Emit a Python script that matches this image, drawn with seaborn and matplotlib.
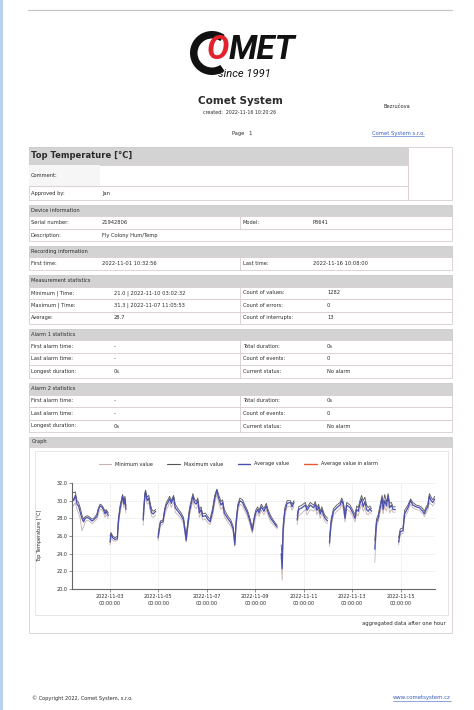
import matplotlib
matplotlib.use("Agg")
import matplotlib.pyplot as plt
import matplotlib.dates as mdates
from matplotlib.patches import Rectangle, Wedge
from matplotlib.lines import Line2D
import pandas as pd
import seaborn as sns

# ---- chart data (hourly aggregates), one list per recording segment ----
times = [
    ["11-01 10:30", "11-01 12:10", "11-01 13:50", "11-01 15:30", "11-01 17:00", "11-01 18:40", "11-01 20:20",
     "11-01 22:00", "11-01 23:40", "11-02 01:50", "11-02 04:30", "11-02 06:10", "11-02 07:50", "11-02 09:30",
     "11-02 11:10", "11-02 12:50", "11-02 14:25", "11-02 16:00", "11-02 17:40", "11-02 19:20", "11-02 20:20",
     "11-02 22:35"],
    ["11-03 00:10", "11-03 01:10", "11-03 02:50", "11-03 05:10", "11-03 07:30", "11-03 08:25", "11-03 10:05",
     "11-03 12:40", "11-03 14:00", "11-03 15:00", "11-03 16:00"],
    ["11-04 09:00", "11-04 10:40", "11-04 11:20", "11-04 13:00", "11-04 14:35", "11-04 16:15", "11-04 17:35",
     "11-04 18:55", "11-04 21:30"],
    ["11-04 23:45", "11-05 02:05", "11-05 04:40", "11-05 06:20", "11-05 08:00", "11-05 09:35", "11-05 11:15",
     "11-05 12:55", "11-05 15:10", "11-05 16:50", "11-05 19:30", "11-05 22:45", "11-06 01:00", "11-06 03:40",
     "11-06 05:00", "11-06 07:00", "11-06 10:15", "11-06 11:50", "11-06 13:30", "11-06 15:10", "11-06 16:45",
     "11-06 18:25", "11-06 20:00", "11-06 22:40", "11-07 01:00", "11-07 03:20", "11-07 05:55", "11-07 07:55",
     "11-07 10:05", "11-07 11:45", "11-07 14:05", "11-07 15:45", "11-07 17:25", "11-07 20:40", "11-07 23:55",
     "11-08 02:10", "11-08 03:50", "11-08 05:10", "11-08 06:50", "11-08 08:50", "11-08 11:25", "11-08 13:00",
     "11-08 16:20", "11-08 18:35", "11-08 21:10", "11-08 22:55", "11-09 00:30", "11-09 02:30", "11-09 03:50",
     "11-09 06:05", "11-09 08:40", "11-09 11:00", "11-09 13:00", "11-09 15:20", "11-09 18:30", "11-09 21:50"],
    ["11-10 01:45", "11-10 02:45", "11-10 03:45", "11-10 05:25", "11-10 07:40", "11-10 10:55", "11-10 12:35",
     "11-10 14:30"],
    ["11-10 17:30", "11-10 19:05", "11-10 22:25", "11-11 01:40", "11-11 03:20", "11-11 06:35", "11-11 09:55",
     "11-11 11:30", "11-11 13:10", "11-11 14:50", "11-11 16:25", "11-11 18:05", "11-11 19:40", "11-11 21:20",
     "11-11 23:40"],
    ["11-12 01:35", "11-12 03:15", "11-12 05:35", "11-12 08:50", "11-12 12:05", "11-12 13:45", "11-12 15:25",
     "11-12 17:00", "11-12 18:40", "11-12 22:00", "11-13 01:15", "11-13 02:55", "11-13 04:30", "11-13 06:05",
     "11-13 07:45", "11-13 09:25", "11-13 11:05", "11-13 12:40", "11-13 14:20", "11-13 16:00", "11-13 17:35",
     "11-13 19:15"],
    ["11-13 22:30", "11-14 00:10", "11-14 01:50", "11-14 04:25", "11-14 05:45", "11-14 06:40", "11-14 08:20",
     "11-14 10:00", "11-14 11:40", "11-14 13:15", "11-14 14:55", "11-14 16:30", "11-14 18:50"],
    ["11-14 22:05", "11-14 23:45", "11-15 02:25", "11-15 04:00", "11-15 07:20", "11-15 09:55", "11-15 12:10",
     "11-15 15:30", "11-15 18:45", "11-15 20:25", "11-15 22:00", "11-15 23:40", "11-16 01:20", "11-16 03:00",
     "11-16 04:35", "11-16 06:15", "11-16 07:55", "11-16 10:00"],
]
avg_vals = [
    [30.5, 30.0, 30.6, 29.6, 29.4, 28.7, 28.0, 27.6, 28.0, 28.1, 27.9, 27.7, 27.8, 28.0, 28.2, 29.0, 29.4, 29.3,
     29.0, 28.5, 28.8, 28.3],
    [25.3, 26.2, 25.8, 25.6, 25.7, 27.5, 29.0, 30.5, 29.6, 30.2, 29.0],
    [27.8, 30.5, 31.0, 30.0, 30.3, 29.2, 28.6, 28.5, 28.8],
    [25.8, 27.5, 27.6, 28.8, 29.5, 29.8, 30.2, 29.7, 30.4, 29.2, 28.8, 28.3, 27.8, 25.5, 27.0, 28.8, 30.5, 29.8,
     29.6, 30.0, 28.6, 29.0, 28.2, 28.3, 27.9, 27.6, 28.8, 30.2, 31.2, 30.3, 29.5, 29.8, 28.6, 28.0, 27.5, 26.8,
     25.0, 27.5, 29.3, 30.0, 29.8, 29.4, 28.6, 27.8, 26.6, 27.8, 28.6, 29.0, 28.6, 29.3, 28.8, 29.4, 28.6, 28.0,
     27.5, 27.0],
    [24.0, 22.3, 26.8, 28.8, 29.7, 29.8, 29.3, 29.8],
    [27.8, 29.0, 29.2, 29.5, 28.9, 29.5, 29.2, 29.6, 28.9, 29.3, 28.5, 29.0, 28.4, 28.0, 27.7],
    [25.2, 27.5, 28.8, 29.2, 29.5, 30.0, 29.5, 28.0, 29.5, 29.2, 28.5, 28.0, 29.0, 28.8, 29.6, 30.2, 29.3, 29.9,
     29.0, 28.8, 29.1, 28.8],
    [24.5, 27.5, 28.0, 29.5, 30.3, 29.0, 30.0, 29.4, 30.5, 29.2, 29.5, 29.0, 29.0],
    [25.3, 26.5, 26.6, 28.5, 29.2, 30.0, 29.5, 29.3, 29.2, 29.0, 28.8, 28.5, 29.0, 29.3, 30.5, 30.0, 29.8, 30.2],
]
min_vals = [
    [29.8, 29.4, 29.8, 29.0, 28.6, 28.0, 26.6, 27.0, 27.6, 27.8, 27.6, 27.4, 27.5, 27.7, 27.9, 28.5, 29.0, 29.0,
     28.6, 28.1, 28.4, 28.0],
    [25.0, 25.8, 25.5, 25.4, 25.5, 27.0, 28.6, 30.1, 29.2, 29.8, 28.6],
    [27.2, 30.0, 30.5, 29.6, 29.8, 28.7, 28.2, 28.1, 28.4],
    [25.5, 27.2, 27.3, 28.3, 29.0, 29.3, 29.8, 29.2, 29.9, 28.7, 28.4, 27.9, 27.4, 25.3, 26.5, 28.3, 30.0, 29.3,
     29.1, 29.5, 28.1, 28.6, 27.8, 27.9, 27.5, 27.3, 28.3, 29.7, 30.7, 29.8, 29.0, 29.3, 28.2, 27.6, 27.1, 26.5,
     24.8, 27.0, 28.8, 29.6, 29.4, 29.0, 28.2, 27.4, 26.3, 27.3, 28.2, 28.6, 28.2, 28.9, 28.4, 29.0, 28.2, 27.6,
     27.2, 26.8],
    [23.5, 21.0, 26.0, 28.3, 29.3, 29.4, 28.9, 29.4],
    [27.3, 28.3, 28.6, 29.0, 28.4, 29.0, 28.8, 29.2, 28.4, 28.9, 28.0, 28.6, 28.0, 27.6, 27.4],
    [24.8, 27.0, 28.4, 28.8, 29.1, 29.6, 29.0, 27.6, 29.0, 28.8, 28.1, 27.6, 28.5, 28.3, 29.0, 29.6, 28.8, 29.2,
     28.5, 28.4, 28.7, 28.5],
    [23.0, 27.0, 27.6, 29.0, 29.6, 28.5, 29.4, 28.8, 29.7, 28.6, 29.0, 28.7, 28.7],
    [25.0, 26.2, 26.3, 28.0, 28.8, 29.6, 29.2, 29.0, 28.9, 28.7, 28.5, 28.2, 28.6, 28.9, 29.8, 29.6, 29.4, 29.8],
]
max_vals = [
    [31.0, 30.9, 31.0, 30.0, 29.8, 29.2, 28.4, 27.9, 28.2, 28.3, 28.1, 27.9, 28.0, 28.2, 28.5, 29.2, 29.6, 29.5,
     29.2, 28.8, 29.0, 28.6],
    [26.0, 26.4, 26.0, 25.8, 26.0, 27.9, 29.4, 30.7, 30.0, 30.5, 29.4],
    [28.4, 30.8, 31.2, 30.4, 30.6, 29.6, 29.0, 28.8, 29.0],
    [26.2, 27.7, 27.8, 29.1, 29.8, 30.1, 30.5, 30.0, 30.6, 29.6, 29.1, 28.6, 28.1, 26.0, 27.4, 29.2, 30.8, 30.2,
     29.9, 30.3, 29.0, 29.3, 28.5, 28.6, 28.2, 27.9, 29.2, 30.6, 31.3, 30.7, 29.9, 30.1, 29.0, 28.3, 27.8, 27.1,
     25.5, 27.9, 29.6, 30.3, 30.1, 29.7, 28.9, 28.1, 26.9, 28.1, 28.9, 29.3, 28.9, 29.6, 29.1, 29.7, 28.9, 28.3,
     27.7, 27.2],
    [25.0, 23.5, 27.4, 29.2, 30.0, 30.0, 29.6, 30.0],
    [28.3, 29.3, 29.5, 29.8, 29.2, 29.8, 29.5, 29.9, 29.2, 29.6, 28.8, 29.3, 28.7, 28.3, 28.0],
    [25.8, 27.9, 29.1, 29.5, 29.8, 30.3, 29.8, 28.5, 29.8, 29.5, 28.8, 28.4, 29.4, 29.2, 30.0, 30.6, 30.0, 30.4,
     29.5, 29.2, 29.4, 29.1],
    [25.5, 27.9, 28.4, 29.9, 30.6, 29.6, 30.7, 29.8, 30.8, 29.7, 29.8, 29.3, 29.3],
    [25.8, 26.8, 26.9, 28.9, 29.5, 30.2, 29.8, 29.5, 29.4, 29.3, 29.1, 28.8, 29.3, 29.6, 30.8, 30.4, 30.1, 30.5],
]
y_ticks = [20, 22, 24, 26, 28, 30, 32]
x_tick_days = [3, 5, 7, 9, 11, 13, 15]
legend_labels = ["Minimum value", "Maximum value", "Average value", "Average value in alarm"]

# ---- report table texts ----
device_rows = [["Serial number:", "21942806", "Model:", "P8641"], ["Description:", "Fly Colony Hum/Temp"]]
recording_rows = [["First time:", "2022-11-01 10:32:56", "Last time:", "2022-11-16 10:08:00"]]
measure_rows = [["Minimum | Time:", "21.0 | 2022-11-10 03:02:32", "Count of values:", "1282"],
                ["Maximum | Time:", "31.3 | 2022-11-07 11:05:53", "Count of errors:", "0"],
                ["Average:", "28.7", "Count of interrupts:", "13"]]
alarm_rows = [["First alarm time:", "-", "Total duration:", "0s"],
              ["Last alarm time:", "-", "Count of events:", "0"],
              ["Longest duration:", "0s", "Current status:", "No alarm"]]

# ---- build the data frame ----
recs = []
for s, (ts, av, mn, mx) in enumerate(zip(times, avg_vals, min_vals, max_vals)):
    assert len(ts) == len(av) == len(mn) == len(mx), s
    for t, a, lo, hi in zip(ts, av, mn, mx):
        recs.append({"time": pd.Timestamp("2022-" + t), "avg": a, "min": lo, "max": hi, "seg": s})
df = pd.DataFrame(recs)

sns.set_theme(style="white")
plt.rcParams["font.family"] = ["DejaVu Sans"]

W, H = 474, 710
fig = plt.figure(figsize=(W / 100, H / 100), dpi=100)
page = fig.add_axes([0, 0, 1, 1])
page.set_xlim(0, W)
page.set_ylim(H, 0)
page.axis("off")

TXT = "#2b2b2b"
EDGE = "#d8cdcd"
HEAD = "#d3d3d3"
X0, X1 = 29, 452
FS = 3.7
NARROW = ["Liberation Sans Narrow", "Roboto", "DejaVu Sans"]

# left blue strip and top rule
page.add_patch(Rectangle((0, 0), 3, H, facecolor="#b9d1ec", edgecolor="none"))
page.plot([28, 452], [10, 10], color="#c8c8c8", lw=0.9)

# logo: black swoosh round a red O
page.add_patch(Wedge((212, 53), 22, 55, 305, width=7.5, facecolor="#111111", edgecolor="none"))
o_txt = page.text(207, 59, "O", fontsize=24, fontweight="bold", style="italic", family=NARROW,
                  color="#e3222b", va="baseline")
renderer = fig.canvas.get_renderer()
o_right = page.transData.inverted().transform(o_txt.get_window_extent(renderer))[1][0]
page.text(o_right - 1, 59, "MET", fontsize=24, fontweight="bold", style="italic", family=NARROW,
          color="#111111", va="baseline")
page.text(218, 77, "since 1991", fontsize=8, style="italic", family=NARROW, color="#111111", va="baseline")

page.text(240, 101, "Comet System", fontsize=7.5, fontweight="bold", color=TXT, ha="center", va="center")
page.text(240, 113, "created:  2022-11-16 10:20:26", fontsize=3.4, color=TXT, ha="center", va="center")
page.text(397, 106, "Bezručova", fontsize=3.7, color=TXT, ha="center", va="center")
page.text(242, 133, "Page   1", fontsize=3.7, color=TXT, ha="center", va="center")

links = []
links.append(page.text(398, 133, "Comet System s.r.o.", fontsize=3.8, color="#3a5fc0", ha="center", va="center"))
page.text(32, 698, "© Copyright 2022, Comet System, s.r.o.", fontsize=3.6, color=TXT, va="center")
links.append(page.text(451, 698, "www.cometsystem.cz", fontsize=3.9, color="#3a5fc0", ha="right", va="center"))


def header(y0, y1, title, x1=X1, **kw):
    page.add_patch(Rectangle((X0, y0), x1 - X0, y1 - y0, facecolor=HEAD, edgecolor="#c4c4c4", lw=0.5))
    page.text(X0 + 2.5, (y0 + y1) / 2, title, color=TXT, va="center", **kw)


def rows(y0, h, data, xs, div):
    for i, cells in enumerate(data):
        a = y0 + i * h
        page.add_patch(Rectangle((X0, a), X1 - X0, h, facecolor="white", edgecolor=EDGE, lw=0.6))
        if len(cells) > 2:
            page.plot([div, div], [a, a + h], color=EDGE, lw=0.6)
        for x, s in zip(xs, cells):
            page.text(x, a + h / 2, s, fontsize=FS, color=TXT, va="center")


# title block
header(147, 165, "Top Temperature [°C]", x1=408, fontsize=6, fontweight="bold")
page.add_patch(Rectangle((X0, 165), 408 - X0, 21, facecolor="white", edgecolor=EDGE, lw=0.6))
page.add_patch(Rectangle((X0, 165), 100 - X0, 21, facecolor="#f6f6f6", edgecolor="none"))
page.add_patch(Rectangle((X0, 186), 408 - X0, 14, facecolor="white", edgecolor=EDGE, lw=0.6))
page.add_patch(Rectangle((408, 147), X1 - 408, 53, facecolor="white", edgecolor=EDGE, lw=0.6))
page.text(31, 175.5, "Comment:", fontsize=FS, color=TXT, va="center")
page.text(31, 193, "Approved by:", fontsize=FS, color=TXT, va="center")
page.text(102, 193, "Jan", fontsize=FS, color=TXT, va="center")

header(205, 216, "Device information", fontsize=FS)
rows(216, 12.7, device_rows, [31, 102, 243, 313], 240)
header(246, 257, "Recording information", fontsize=FS)
rows(257, 13, recording_rows, [31, 102, 243, 313], 240)
header(275, 286.5, "Measurement statistics", fontsize=FS)
rows(286.5, 12.5, measure_rows, [31, 114, 243, 327], 240)
header(328.5, 340, "Alarm 1 statistics", fontsize=FS)
rows(340, 12.6, alarm_rows, [31, 114, 243, 327], 240)
header(383, 394.5, "Alarm 2 statistics", fontsize=FS)
rows(394.5, 12.6, alarm_rows, [31, 114, 243, 327], 240)

# graph block
header(437, 447, "Graph", fontsize=FS)
page.add_patch(Rectangle((X0, 447), X1 - X0, 633 - 447, facecolor="white", edgecolor=EDGE, lw=0.6))
page.add_patch(Rectangle((35, 451), 448 - 35, 615 - 451, facecolor="white", edgecolor="#e2e2e2", lw=0.6))
page.text(446, 624, "aggregated data after one hour", fontsize=3.8, color=TXT, ha="right", va="center")
page.text(40, 536, "Top Temperature [°C]", fontsize=3.5, color=TXT, rotation=90, ha="center", va="center")

MINC, MAXC, AVGC, ALC = "#c9b1b1", "#555555", "#4b4fae", "#ec5a2c"
ax = fig.add_axes([72 / W, 1 - 589 / H, 363 / W, 106 / H])
sns.lineplot(data=df, x="time", y="min", units="seg", estimator=None, ax=ax, color=MINC, lw=0.6, legend=False)
sns.lineplot(data=df, x="time", y="max", units="seg", estimator=None, ax=ax, color=MAXC, lw=0.6, legend=False)
sns.lineplot(data=df, x="time", y="avg", units="seg", estimator=None, ax=ax, color=AVGC, lw=0.9, legend=False)

ax.set_xlim(pd.Timestamp("2022-11-01 10:32:56"), pd.Timestamp("2022-11-16 10:08:00"))
ax.set_ylim(20, 32)
ax.set_yticks(y_ticks)
ax.yaxis.set_major_formatter(matplotlib.ticker.FormatStrFormatter("%.1f"))
ax.xaxis.set_major_locator(mdates.DayLocator(bymonthday=x_tick_days))
ax.xaxis.set_major_formatter(mdates.DateFormatter("%Y-%m-%d\n%H:%M:%S"))
ax.set_xlabel("")
ax.set_ylabel("")
ax.grid(True, color="#ececec", lw=0.5)
for side in ["top", "right"]:
    ax.spines[side].set_visible(False)
for side in ["left", "bottom"]:
    ax.spines[side].set_color("#666666")
    ax.spines[side].set_linewidth(0.8)
ax.tick_params(axis="both", labelsize=3.5, labelcolor=TXT, length=2, width=0.5, pad=1.5, color="#666666",
               direction="out", left=True, bottom=True)
for lab in ax.get_xticklabels():
    lab.set_linespacing(1.6)

handles = [Line2D([], [], color=c, lw=w) for c, w in [(MINC, 0.8), (MAXC, 0.8), (AVGC, 1.0), (ALC, 1.0)]]
fig.legend(handles, legend_labels, ncol=4, loc="center", bbox_to_anchor=(238 / W, 1 - 464 / H), frameon=False,
           fontsize=3.5, handlelength=2.6, columnspacing=3.0, handletextpad=0.8)

# underline the link texts
fig.canvas.draw()
inv = page.transData.inverted()
for t in links:
    bb = t.get_window_extent()
    (xa, ya), (xb, yb) = inv.transform([[bb.x0, bb.y0], [bb.x1, bb.y1]])
    page.plot([xa, xb], [ya + 0.3, ya + 0.3], color="#3a5fc0", lw=0.4)

fig.savefig("out.png", dpi=100)
